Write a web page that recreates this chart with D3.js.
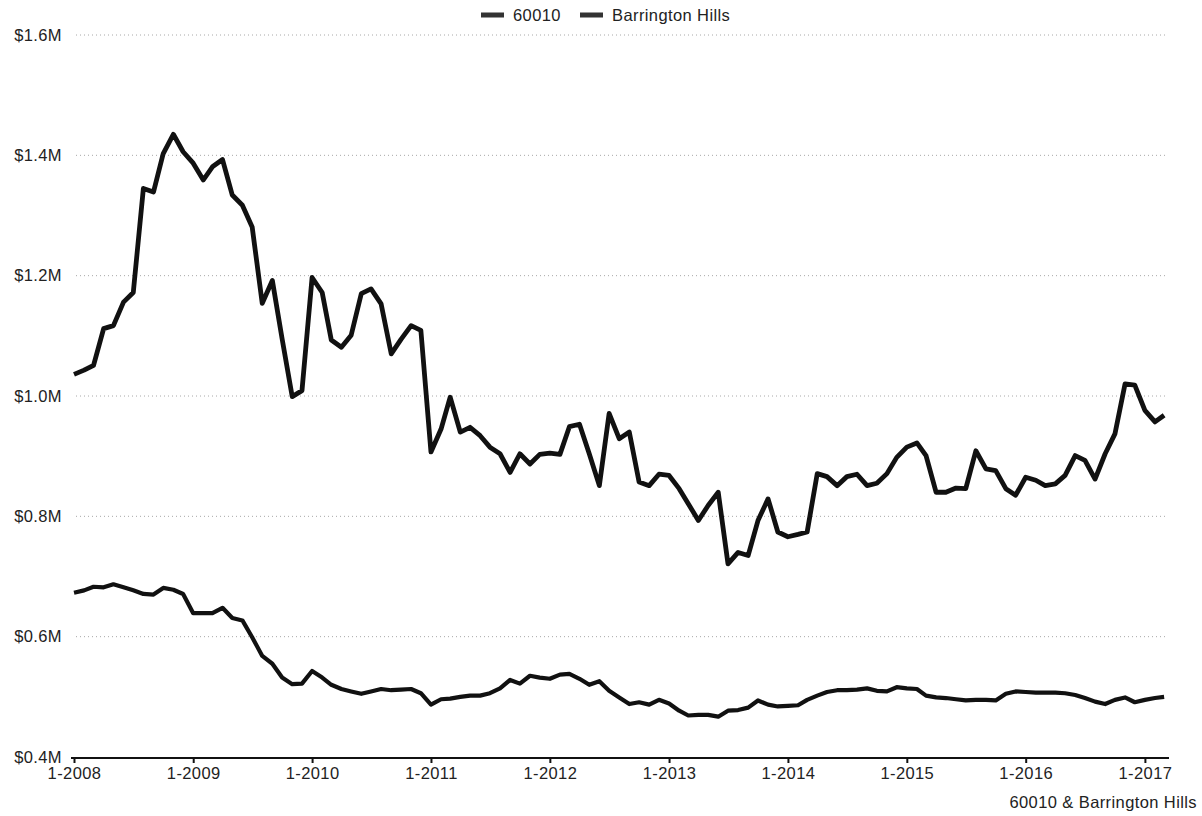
<!DOCTYPE html>
<html>
<head>
<meta charset="utf-8">
<script src="https://cdn.jsdelivr.net/npm/d3@7"></script>
<style>
  html, body { margin: 0; padding: 0; background: #fff; }
  svg { display: block; font-family: "Liberation Sans", Arial, sans-serif; }
</style>
</head>
<body>
<svg id="chart" width="1202" height="816"></svg>
<script>
// Monthly median sale price, Jan 2008 – Mar 2017 (in $ millions)
const seriesNames = ["60010", "Barrington Hills"];

const zip60010 = [
  0.673, 0.677, 0.683, 0.682, 0.687, 0.682, 0.677, 0.671, 0.670, 0.681, 0.678, 0.671,
  0.639, 0.639, 0.639, 0.648, 0.631, 0.627, 0.599, 0.568, 0.555, 0.532, 0.521, 0.522,
  0.543, 0.532, 0.520, 0.513, 0.509, 0.505, 0.509, 0.513, 0.511, 0.512, 0.513, 0.506,
  0.487, 0.496, 0.497, 0.500, 0.502, 0.502, 0.506, 0.514, 0.528, 0.522, 0.535, 0.532,
  0.530, 0.537, 0.538, 0.530, 0.520, 0.526, 0.510, 0.499, 0.488, 0.491, 0.487, 0.495,
  0.489, 0.477, 0.469, 0.470, 0.470, 0.467, 0.477, 0.478, 0.482, 0.494, 0.487, 0.484,
  0.485, 0.486, 0.495, 0.502, 0.508, 0.511, 0.511, 0.512, 0.514, 0.510, 0.509, 0.516,
  0.514, 0.513, 0.502, 0.499, 0.498, 0.496, 0.494, 0.495, 0.495, 0.494, 0.505, 0.509,
  0.508, 0.507, 0.507, 0.507, 0.506, 0.503, 0.498, 0.492, 0.488, 0.495, 0.499, 0.491,
  0.495, 0.498, 0.500
];

const barringtonHills = [
  1.036, 1.043, 1.051, 1.112, 1.117, 1.156, 1.172, 1.345, 1.339, 1.403, 1.435, 1.406,
  1.387, 1.359, 1.381, 1.393, 1.334, 1.317, 1.281, 1.154, 1.192, 1.095, 0.999, 1.009,
  1.197, 1.172, 1.093, 1.081, 1.101, 1.170, 1.178, 1.153, 1.070, 1.094, 1.117, 1.109,
  0.907, 0.945, 0.998, 0.940, 0.948, 0.934, 0.915, 0.904, 0.873, 0.904, 0.887, 0.903,
  0.905, 0.903, 0.949, 0.953, 0.904, 0.851, 0.971, 0.929, 0.940, 0.857, 0.851, 0.870,
  0.868, 0.846, 0.821, 0.793, 0.818, 0.840, 0.721, 0.740, 0.735, 0.793, 0.829, 0.774,
  0.766, 0.770, 0.774, 0.871, 0.866, 0.851, 0.866, 0.870, 0.851, 0.855, 0.871, 0.898,
  0.915, 0.922, 0.901, 0.840, 0.840, 0.847, 0.846, 0.909, 0.879, 0.876, 0.846, 0.835,
  0.865, 0.860, 0.851, 0.854, 0.868, 0.901, 0.893, 0.862, 0.904, 0.937, 1.020, 1.018,
  0.976, 0.957, 0.968
];

const yTicks = [0.4, 0.6, 0.8, 1.0, 1.2, 1.4, 1.6];
const xTickYears = [2008, 2009, 2010, 2011, 2012, 2013, 2014, 2015, 2016, 2017];
const footnote = "60010 & Barrington Hills";

const firstMonth = new Date(2008, 0, 1);
const months = zip60010.map((_, i) => d3.timeMonth.offset(firstMonth, i));

const FONT = 16.5;
const svg = d3.select("#chart");
svg.append("rect").attr("width", 1202).attr("height", 816).attr("fill", "#fff");

const x = d3.scaleTime()
  .domain([new Date(2008, 0, 1), new Date(2017, 2, 16)])
  .range([74, 1169]);

const y = d3.scaleLinear()
  .domain([0.4, 1.6])
  .range([757, 35]);

// dotted horizontal gridlines
svg.append("g")
  .selectAll("line")
  .data(yTicks.filter(v => v > 0.4))
  .join("line")
  .attr("x1", 76).attr("x2", 1166)
  .attr("y1", d => y(d)).attr("y2", d => y(d))
  .attr("stroke", "#a8a8a8")
  .attr("stroke-width", 1)
  .attr("stroke-dasharray", "1 3");

// y labels
const yAxis = svg.append("g")
  .attr("transform", "translate(62,0)")
  .call(d3.axisLeft(y).tickValues(yTicks).tickSize(0).tickPadding(0)
    .tickFormat(d => "$" + d.toFixed(1) + "M"));
yAxis.select(".domain").remove();
yAxis.selectAll("text")
  .attr("font-size", FONT)
  .attr("font-family", "Liberation Sans, Arial, sans-serif")
  .attr("letter-spacing", 0.4)
  .attr("fill", "#222");

// x axis
const xAxis = svg.append("g")
  .attr("transform", `translate(0,${y(0.4) + 1})`)
  .call(d3.axisBottom(x)
    .tickValues(xTickYears.map(yr => new Date(yr, 0, 1)))
    .tickSize(5).tickSizeOuter(0).tickPadding(4)
    .tickFormat(d => "1-" + d.getFullYear()));
xAxis.select(".domain").attr("stroke", "#111").attr("stroke-width", 2)
  .attr("d", `M71,0H1169`);
xAxis.selectAll(".tick line").attr("stroke", "#111").attr("stroke-width", 2);
xAxis.selectAll("text")
  .attr("font-size", FONT)
  .attr("font-family", "Liberation Sans, Arial, sans-serif")
  .attr("letter-spacing", 0.4)
  .attr("fill", "#222");

// series lines
const line = d3.line()
  .x((d, i) => x(months[i]))
  .y(d => y(d));

svg.append("path")
  .datum(zip60010)
  .attr("fill", "none")
  .attr("stroke", "#111")
  .attr("stroke-width", 4.2)
  .attr("stroke-linejoin", "round")
  .attr("d", line);

svg.append("path")
  .datum(barringtonHills)
  .attr("fill", "none")
  .attr("stroke", "#111")
  .attr("stroke-width", 4.8)
  .attr("stroke-linejoin", "round")
  .attr("d", line);

// legend
const legend = svg.append("g").attr("transform", "translate(481,15)");
const legendItems = [
  { name: seriesNames[0], dx: 0 },
  { name: seriesNames[1], dx: 99 }
];
const li = legend.selectAll("g").data(legendItems).join("g")
  .attr("transform", d => `translate(${d.dx},0)`);
li.append("rect")
  .attr("x", 0).attr("y", -2.5).attr("width", 23).attr("height", 5)
  .attr("fill", "#333");
li.append("text")
  .attr("x", 32).attr("y", 0).attr("dy", "0.35em")
  .attr("font-size", FONT)
  .attr("letter-spacing", 0.4)
  .attr("fill", "#222")
  .text(d => d.name);

// footnote
svg.append("text")
  .attr("x", 1197).attr("y", 802)
  .attr("dy", "0.35em")
  .attr("text-anchor", "end")
  .attr("font-size", FONT)
  .attr("letter-spacing", 0.4)
  .attr("fill", "#222")
  .text(footnote);
</script>
</body>
</html>
